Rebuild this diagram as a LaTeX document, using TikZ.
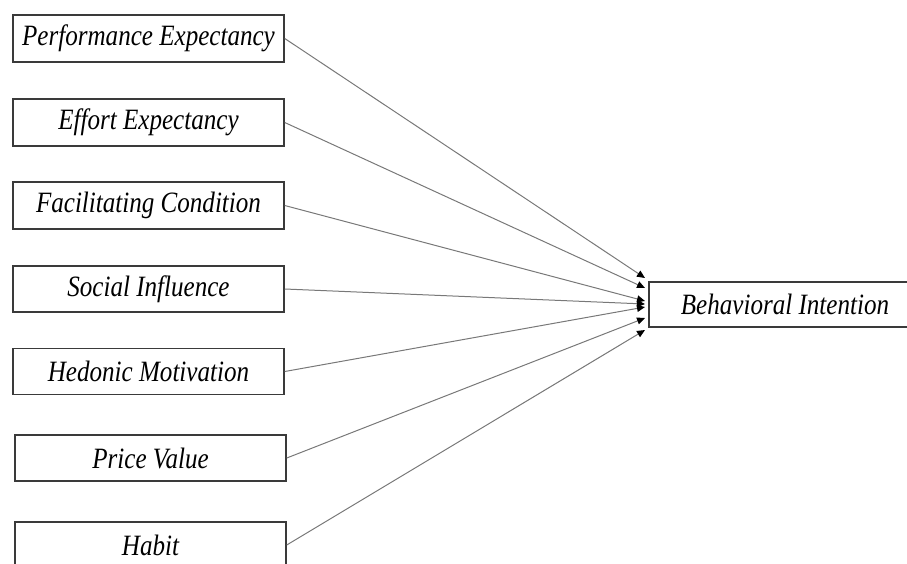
\documentclass[tikz,border=0pt]{standalone}
\usepackage{fontspec}
\setmainfont{Liberation Serif}
\newfontfamily\narrowit[FakeStretch=0.85]{Liberation Serif Italic}
\usetikzlibrary{arrows.meta}
\definecolor{boxline}{HTML}{3A3A3A}
\definecolor{arrline}{HTML}{787878}
\tikzset{
  factor/.style={draw=boxline, line width=1.5pt, rectangle, inner sep=0pt,
    minimum width=271pt, minimum height=46pt,
    font=\narrowit\fontsize{29.5}{32}\selectfont},
  link/.style={draw=arrline, line width=1pt, -{Triangle[length=8pt,width=7pt,color=black]}}
}
\begin{document}
\begin{tikzpicture}[x=1pt,y=-1pt]
\useasboundingbox (0,0) rectangle (907,563);
\clip (0,0) rectangle (907,563);
\node[factor, minimum height=47pt] (pe) at (148.5,38.5) {Performance Expectancy};
\node[factor, minimum height=47pt] (ee) at (148.5,122.5) {Effort Expectancy};
\node[factor, minimum height=47pt] (fc) at (148.5,205.5) {Facilitating Condition};
\node[factor] (si) at (148.5,289) {Social Influence};
\node[factor] (hm) at (148.5,371.5) {Hedonic Motivation};
\node[factor] (pv) at (150.5,458) {Price Value};
\node[factor] (hb) at (150.5,545) {Habit};
\node[factor, minimum width=280pt, minimum height=45pt] (bi) at (789,304.5) {\hspace*{-8pt}Behavioral Intention};
\coordinate (t1) at (645,278);
\coordinate (t2) at (645,288);
\coordinate (t3) at (645,301);
\coordinate (t4) at (645,304);
\coordinate (t5) at (645,307);
\coordinate (t6) at (645,318);
\coordinate (t7) at (645,330);
\draw[link] (pe.east) -- (t1);
\draw[link] (ee.east) -- (t2);
\draw[link] (fc.east) -- (t3);
\draw[link] (si.east) -- (t4);
\draw[link] (hm.east) -- (t5);
\draw[link] (pv.east) -- (t6);
\draw[link] (hb.east) -- (t7);
\end{tikzpicture}
\end{document}
